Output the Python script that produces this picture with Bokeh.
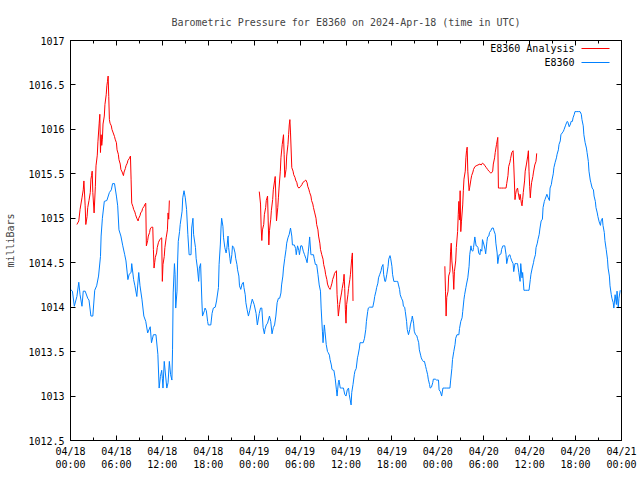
import datetime as dt
from bokeh.plotting import figure
from bokeh.models import (Range1d, FixedTicker, DatetimeTickFormatter, LinearAxis, DatetimeAxis,
                          CustomJSTickFormatter, Label, BoxAnnotation)
from bokeh.embed import file_html
from bokeh.resources import INLINE

TITLE = "Barometric Pressure for E8360 on 2024-Apr-18 (time in UTC)"
Y_LABEL = "milliBars"
SERIES_NAMES = ["E8360 Analysis", "E8360"]
START = dt.datetime(2024, 4, 18, 0, 0)
END = dt.datetime(2024, 4, 21, 0, 0)
X_TICK_HOURS = [0, 6, 12, 18, 24, 30, 36, 42, 48, 54, 60, 66, 72]
X_MINOR_HOURS = [3, 9, 15, 21, 27, 33, 39, 45, 51, 57, 63, 69]
Y_TICKS = [1012.5, 1013, 1013.5, 1014, 1014.5, 1015, 1015.5, 1016, 1016.5, 1017]

# E8360 station (minutes after 2024-04-18 00:00 UTC, mb)
blue_min = [0, 15, 30, 50, 65, 75, 90, 100, 115, 135, 145, 160, 175, 190, 205, 220, 235, 240, 250, 265,
            285, 305, 320, 330, 345, 360, 370, 380, 395, 410, 425, 435, 450, 460, 475, 480, 495, 505, 520, 535,
            545, 560, 575, 590, 605, 625, 635, 650, 670, 685, 695, 705, 715, 720, 725, 735, 755, 765, 775, 785,
            795, 800, 805, 815, 820, 825, 835, 840, 845, 855, 860, 875, 880, 890, 900, 910, 920, 930, 945, 950,
            960, 965, 980, 985, 995, 1005, 1010, 1020, 1030, 1035, 1050, 1055, 1065, 1075, 1080, 1100, 1110, 1120, 1135, 1145,
            1160, 1165, 1175, 1180, 1185, 1195, 1200, 1210, 1220, 1225, 1235, 1240, 1250, 1255, 1265, 1270, 1280, 1290, 1295, 1305,
            1310, 1320, 1325, 1335, 1345, 1355, 1360, 1370, 1375, 1385, 1395, 1405, 1415, 1425, 1440, 1455, 1465, 1480, 1490, 1500,
            1510, 1520, 1525, 1535, 1545, 1560, 1570, 1580, 1590, 1600, 1610, 1620, 1630, 1640, 1650, 1655, 1665, 1670, 1680, 1690,
            1695, 1705, 1715, 1725, 1735, 1740, 1755, 1765, 1770, 1780, 1790, 1795, 1805, 1815, 1825, 1835, 1845, 1855, 1865, 1870,
            1875, 1885, 1890, 1905, 1910, 1920, 1930, 1940, 1950, 1960, 1965, 1975, 1980, 1990, 1995, 2005, 2015, 2020, 2030, 2035,
            2045, 2050, 2060, 2065, 2075, 2085, 2090, 2100, 2105, 2115, 2125, 2140, 2150, 2160, 2170, 2180, 2185, 2200, 2205, 2215,
            2225, 2230, 2240, 2250, 2255, 2265, 2270, 2285, 2295, 2305, 2315, 2320, 2330, 2335, 2345, 2355, 2370, 2380, 2385, 2395,
            2400, 2410, 2415, 2425, 2435, 2440, 2450, 2455, 2465, 2470, 2480, 2490, 2495, 2505, 2510, 2520, 2525, 2535, 2545, 2555,
            2565, 2570, 2580, 2585, 2595, 2605, 2610, 2620, 2625, 2635, 2640, 2650, 2660, 2665, 2675, 2680, 2690, 2695, 2705, 2715,
            2720, 2730, 2735, 2745, 2750, 2760, 2765, 2775, 2785, 2790, 2800, 2805, 2815, 2820, 2830, 2840, 2845, 2860, 2870, 2885,
            2890, 2900, 2910, 2920, 2930, 2950, 2975, 2980, 2990, 2995, 3005, 3015, 3020, 3030, 3045, 3050, 3060, 3070, 3075, 3085,
            3090, 3100, 3105, 3115, 3125, 3130, 3140, 3145, 3155, 3160, 3170, 3180, 3185, 3195, 3200, 3210, 3215, 3225, 3230, 3240,
            3250, 3255, 3265, 3270, 3280, 3285, 3295, 3305, 3315, 3320, 3330, 3335, 3345, 3350, 3360, 3365, 3375, 3380, 3390, 3395,
            3405, 3415, 3420, 3430, 3435, 3445, 3450, 3460, 3470, 3475, 3485, 3495, 3505, 3515, 3525, 3530, 3540, 3545, 3555, 3570,
            3585, 3595, 3605, 3610, 3620, 3630, 3635, 3645, 3650, 3660, 3665, 3675, 3680, 3690, 3700, 3705, 3715, 3720, 3730, 3735,
            3745, 3755, 3760, 3770, 3775, 3785, 3790, 3800, 3810, 3815, 3825, 3830, 3840, 3845, 3855, 3865, 3870, 3880, 3885, 3895,
            3900, 3910, 3920, 3925, 3935, 3940, 3950, 3955, 3970, 3985, 3995, 4005, 4010, 4020, 4025, 4035, 4045, 4050, 4060, 4065,
            4075, 4080, 4090, 4100, 4105, 4115, 4120, 4130, 4135, 4145, 4155, 4160, 4170, 4175, 4185, 4190, 4200, 4210, 4215, 4225,
            4230, 4240, 4245, 4255, 4260, 4270, 4280, 4285, 4295, 4300, 4310]
blue_mb = [1014.20, 1014.18, 1014.01, 1014.12, 1014.28, 1014.14, 1014.01, 1014.18, 1014.18, 1014.10, 1014.08, 1013.90, 1013.90, 1014.19, 1014.24, 1014.35, 1014.57, 1014.80, 1015.00, 1015.19,
           1015.20, 1015.29, 1015.32, 1015.39, 1015.39, 1015.25, 1015.14, 1014.87, 1014.80, 1014.69, 1014.59, 1014.52, 1014.31, 1014.37, 1014.39, 1014.49, 1014.31, 1014.24, 1014.12, 1014.39,
           1014.24, 1014.09, 1013.90, 1013.84, 1013.71, 1013.78, 1013.60, 1013.69, 1013.69, 1013.47, 1013.09, 1013.22, 1013.29, 1013.20, 1013.09, 1013.39, 1013.09, 1013.15, 1013.39, 1013.24,
           1013.18, 1013.52, 1014.16, 1014.49, 1014.37, 1013.99, 1014.18, 1014.52, 1014.74, 1014.85, 1014.93, 1015.08, 1015.23, 1015.31, 1015.23, 1015.10, 1014.82, 1014.59, 1014.59, 1014.89,
           1015.00, 1014.82, 1014.67, 1014.55, 1014.44, 1014.29, 1014.44, 1014.49, 1014.07, 1013.90, 1013.96, 1013.99, 1013.96, 1013.84, 1013.80, 1013.80, 1013.93, 1013.99, 1014.00, 1014.07,
           1014.22, 1014.48, 1014.71, 1014.89, 1015.00, 1014.91, 1014.78, 1014.67, 1014.61, 1014.65, 1014.80, 1014.67, 1014.55, 1014.49, 1014.59, 1014.69, 1014.67, 1014.61, 1014.55, 1014.48,
           1014.42, 1014.35, 1014.24, 1014.20, 1014.26, 1014.28, 1014.22, 1014.14, 1014.05, 1013.97, 1013.90, 1013.96, 1014.03, 1014.09, 1014.03, 1013.93, 1013.80, 1013.93, 1013.99, 1013.99,
           1013.77, 1013.70, 1013.75, 1013.80, 1013.82, 1013.90, 1013.84, 1013.70, 1013.77, 1013.80, 1013.90, 1014.05, 1014.10, 1014.10, 1014.16, 1014.25, 1014.35, 1014.44, 1014.55, 1014.65,
           1014.72, 1014.78, 1014.82, 1014.89, 1014.80, 1014.70, 1014.70, 1014.66, 1014.59, 1014.69, 1014.64, 1014.59, 1014.69, 1014.69, 1014.63, 1014.59, 1014.55, 1014.50, 1014.63, 1014.70,
           1014.79, 1014.59, 1014.59, 1014.59, 1014.55, 1014.48, 1014.48, 1014.37, 1014.25, 1014.18, 1013.99, 1013.73, 1013.60, 1013.80, 1013.73, 1013.58, 1013.50, 1013.49, 1013.46, 1013.41,
           1013.35, 1013.30, 1013.29, 1013.29, 1013.20, 1013.07, 1013.00, 1013.15, 1013.18, 1013.09, 1013.09, 1013.09, 1013.02, 1013.00, 1013.07, 1013.09, 1013.02, 1012.90, 1013.04, 1013.13,
           1013.24, 1013.28, 1013.31, 1013.43, 1013.46, 1013.54, 1013.60, 1013.60, 1013.60, 1013.65, 1013.75, 1013.84, 1013.95, 1013.99, 1014.00, 1014.00, 1014.00, 1014.07, 1014.12, 1014.18,
           1014.22, 1014.27, 1014.33, 1014.37, 1014.41, 1014.45, 1014.48, 1014.37, 1014.29, 1014.29, 1014.37, 1014.46, 1014.54, 1014.58, 1014.55, 1014.46, 1014.37, 1014.29, 1014.29, 1014.29,
           1014.29, 1014.26, 1014.20, 1014.14, 1014.10, 1014.07, 1014.01, 1014.00, 1013.95, 1013.84, 1013.75, 1013.69, 1013.75, 1013.80, 1013.86, 1013.90, 1013.82, 1013.73, 1013.69, 1013.68,
           1013.65, 1013.60, 1013.52, 1013.46, 1013.43, 1013.40, 1013.39, 1013.39, 1013.33, 1013.30, 1013.24, 1013.19, 1013.13, 1013.09, 1013.10, 1013.15, 1013.19, 1013.19, 1013.18, 1013.18,
           1013.07, 1013.05, 1013.00, 1013.09, 1013.09, 1013.09, 1013.09, 1013.17, 1013.31, 1013.41, 1013.50, 1013.58, 1013.65, 1013.69, 1013.69, 1013.76, 1013.84, 1013.88, 1013.95, 1014.09,
           1014.14, 1014.22, 1014.26, 1014.33, 1014.46, 1014.59, 1014.69, 1014.64, 1014.63, 1014.67, 1014.79, 1014.69, 1014.69, 1014.67, 1014.61, 1014.59, 1014.65, 1014.63, 1014.76, 1014.71,
           1014.65, 1014.60, 1014.74, 1014.79, 1014.80, 1014.84, 1014.86, 1014.89, 1014.89, 1014.86, 1014.82, 1014.72, 1014.61, 1014.49, 1014.59, 1014.59, 1014.60, 1014.65, 1014.69, 1014.69,
           1014.69, 1014.59, 1014.49, 1014.56, 1014.58, 1014.59, 1014.56, 1014.52, 1014.49, 1014.40, 1014.49, 1014.49, 1014.49, 1014.39, 1014.29, 1014.49, 1014.33, 1014.39, 1014.19, 1014.19,
           1014.19, 1014.19, 1014.31, 1014.37, 1014.44, 1014.50, 1014.54, 1014.59, 1014.67, 1014.72, 1014.76, 1014.82, 1014.88, 1014.97, 1014.99, 1015.12, 1015.19, 1015.21, 1015.25, 1015.27,
           1015.23, 1015.20, 1015.34, 1015.38, 1015.43, 1015.50, 1015.57, 1015.63, 1015.68, 1015.72, 1015.77, 1015.83, 1015.87, 1015.94, 1015.96, 1015.98, 1016.00, 1016.04, 1016.06, 1016.09,
           1016.08, 1016.03, 1016.06, 1016.09, 1016.09, 1016.13, 1016.17, 1016.20, 1016.20, 1016.20, 1016.20, 1016.17, 1016.11, 1016.04, 1015.94, 1015.85, 1015.79, 1015.74, 1015.64, 1015.53,
           1015.43, 1015.40, 1015.34, 1015.32, 1015.25, 1015.19, 1015.12, 1015.06, 1015.02, 1014.96, 1014.92, 1014.97, 1015.00, 1014.92, 1014.84, 1014.75, 1014.65, 1014.54, 1014.44, 1014.35,
           1014.24, 1014.14, 1014.10, 1014.05, 1013.99, 1014.14, 1014.03, 1014.18, 1013.99, 1014.10, 1014.19]

# E8360 Analysis, three separate runs
red1_min = [50, 65, 75, 90, 100, 105, 115, 120, 130, 135, 145, 155, 160, 165, 170, 175, 185, 195, 200, 210,
            215, 225, 230, 235, 240, 245, 250, 255, 265, 270, 280, 285, 290, 295, 300, 305, 310, 320, 325, 335,
            345, 350, 360, 365, 375, 380, 390, 395, 405, 415, 420, 430, 435, 445, 450, 460, 470, 475, 480, 490,
            495, 505, 510, 520, 530, 535, 545, 550, 560, 565, 575, 585, 590, 595, 605, 610, 620, 625, 635, 645,
            650, 655, 660, 665, 675, 680, 690, 700, 705, 715, 720, 725, 735, 740, 750, 760, 765, 770, 775]
red1_mb = [1014.93, 1014.97, 1015.10, 1015.23, 1015.32, 1015.42, 1015.14, 1014.93, 1015.02, 1015.12, 1015.20, 1015.29, 1015.44, 1015.48, 1015.53, 1015.29, 1015.06, 1015.36, 1015.59, 1015.71,
           1015.86, 1016.07, 1016.17, 1015.74, 1015.94, 1015.82, 1015.89, 1016.06, 1016.15, 1016.28, 1016.39, 1016.49, 1016.54, 1016.60, 1016.37, 1016.11, 1016.07, 1016.04, 1016.00, 1015.96,
           1015.92, 1015.89, 1015.85, 1015.77, 1015.72, 1015.66, 1015.61, 1015.55, 1015.52, 1015.48, 1015.52, 1015.56, 1015.59, 1015.62, 1015.65, 1015.67, 1015.70, 1015.44, 1015.17, 1015.13,
           1015.10, 1015.07, 1015.04, 1015.00, 1014.97, 1015.00, 1015.03, 1015.06, 1015.08, 1015.11, 1015.13, 1015.16, 1015.17, 1014.69, 1014.75, 1014.80, 1014.84, 1014.88, 1014.90, 1014.90,
           1014.65, 1014.44, 1014.50, 1014.56, 1014.61, 1014.67, 1014.73, 1014.76, 1014.77, 1014.78, 1014.29, 1014.48, 1014.57, 1014.67, 1014.78, 1014.87, 1015.06, 1014.99, 1015.20]

red2_min = [1480, 1490, 1495, 1500, 1505, 1515, 1520, 1530, 1535, 1545, 1550, 1555, 1560, 1570, 1575, 1585, 1590, 1600, 1605, 1610,
            1615, 1625, 1630, 1635, 1645, 1650, 1660, 1670, 1675, 1680, 1690, 1695, 1705, 1710, 1715, 1720, 1725, 1735, 1745, 1750,
            1760, 1765, 1775, 1780, 1790, 1800, 1805, 1815, 1820, 1830, 1835, 1845, 1855, 1860, 1870, 1875, 1885, 1890, 1900, 1905,
            1915, 1925, 1930, 1940, 1945, 1955, 1960, 1970, 1980, 1985, 1995, 2000, 2010, 2015, 2025, 2035, 2040, 2050, 2055, 2065,
            2070, 2080, 2085, 2090, 2095, 2100, 2110, 2115, 2125, 2130, 2140, 2145, 2150, 2155, 2160, 2165, 2175, 2180, 2190, 2195,
            2205, 2210, 2215]
red2_mb = [1015.30, 1015.16, 1014.89, 1014.75, 1014.87, 1014.93, 1015.04, 1015.12, 1015.20, 1015.25, 1014.97, 1014.70, 1014.86, 1014.99, 1015.09, 1015.21, 1015.32, 1015.42, 1015.47, 1015.23,
           1014.97, 1015.12, 1015.23, 1015.34, 1015.53, 1015.68, 1015.83, 1015.94, 1015.72, 1015.46, 1015.55, 1015.70, 1015.83, 1015.94, 1016.05, 1016.11, 1015.96, 1015.57, 1015.53, 1015.49,
           1015.46, 1015.43, 1015.40, 1015.36, 1015.34, 1015.35, 1015.36, 1015.38, 1015.40, 1015.41, 1015.42, 1015.43, 1015.40, 1015.36, 1015.32, 1015.29, 1015.25, 1015.20, 1015.16, 1015.12,
           1015.06, 1015.00, 1014.93, 1014.87, 1014.80, 1014.72, 1014.65, 1014.59, 1014.54, 1014.48, 1014.42, 1014.37, 1014.31, 1014.26, 1014.22, 1014.20, 1014.22, 1014.27, 1014.31, 1014.35,
           1014.38, 1014.40, 1014.41, 1014.14, 1014.03, 1013.90, 1014.03, 1014.08, 1014.16, 1014.21, 1014.29, 1014.37, 1014.21, 1013.97, 1013.82, 1014.03, 1014.14, 1014.21, 1014.31, 1014.37,
           1014.55, 1014.61, 1014.07]

red3_min = [2935, 2940, 2945, 2950, 2960, 2965, 2975, 2980, 2985, 2990, 3000, 3005, 3010, 3020, 3025, 3035, 3040, 3045, 3050, 3055,
            3060, 3065, 3075, 3080, 3085, 3095, 3100, 3105, 3110, 3115, 3125, 3130, 3140, 3145, 3155, 3160, 3170, 3180, 3195, 3210,
            3220, 3230, 3240, 3250, 3260, 3270, 3280, 3295, 3300, 3310, 3315, 3325, 3330, 3340, 3345, 3350, 3355, 3365, 3380, 3395,
            3405, 3415, 3420, 3430, 3435, 3445, 3450, 3460, 3470, 3475, 3480, 3485, 3490, 3495, 3505, 3510, 3520, 3525, 3535, 3540,
            3545, 3550, 3560, 3565, 3575, 3585, 3590, 3595, 3600, 3605, 3610, 3615, 3625, 3630, 3640, 3650, 3655]
red3_mb = [1014.46, 1014.18, 1013.90, 1014.11, 1014.18, 1014.35, 1014.40, 1014.63, 1014.72, 1014.52, 1014.37, 1014.20, 1014.40, 1014.52, 1014.67, 1014.85, 1015.04, 1015.19, 1014.98, 1015.31,
           1014.85, 1014.96, 1015.15, 1015.31, 1015.44, 1015.53, 1015.68, 1015.76, 1015.80, 1015.53, 1015.31, 1015.35, 1015.44, 1015.48, 1015.52, 1015.55, 1015.58, 1015.59, 1015.60, 1015.61,
           1015.60, 1015.62, 1015.61, 1015.59, 1015.57, 1015.55, 1015.53, 1015.51, 1015.51, 1015.53, 1015.61, 1015.68, 1015.74, 1015.83, 1015.87, 1015.91, 1015.34, 1015.34, 1015.34, 1015.34,
           1015.34, 1015.34, 1015.39, 1015.48, 1015.58, 1015.63, 1015.67, 1015.74, 1015.76, 1015.61, 1015.42, 1015.21, 1015.27, 1015.31, 1015.34, 1015.29, 1015.21, 1015.27, 1015.17, 1015.14,
           1015.21, 1015.29, 1015.42, 1015.53, 1015.61, 1015.70, 1015.76, 1015.53, 1015.36, 1015.23, 1015.33, 1015.40, 1015.47, 1015.52, 1015.60, 1015.64, 1015.73]

RED = "#ff0000"
BLUE = "#0080ff"
FONT = "DejaVu Sans Mono"
EPOCH = dt.datetime(1970, 1, 1)


def times(mins):
    return [START + dt.timedelta(minutes=m) for m in mins]


def ms(hours):
    return [(START + dt.timedelta(hours=h) - EPOCH).total_seconds() * 1000.0 for h in hours]


p = figure(frame_width=551, frame_height=400, x_axis_type="datetime",
           x_range=Range1d(START, END), y_range=Range1d(Y_TICKS[0], Y_TICKS[-1]),
           output_backend="svg", toolbar_location=None, title=TITLE,
           min_border_left=70, min_border_right=19, min_border_top=40, min_border_bottom=40)
p.background_fill_color = "white"
p.border_fill_color = "white"
p.outline_line_color = "black"
p.outline_line_width = 1
p.xgrid.visible = False
p.ygrid.visible = False

p.title.text_font = FONT
p.title.text_font_size = "10px"
p.title.text_font_style = "normal"
p.title.align = "center"
p.title.standoff = 25

xt = FixedTicker(ticks=ms(X_TICK_HOURS), minor_ticks=ms(X_MINOR_HOURS))
yt = FixedTicker(ticks=Y_TICKS, minor_ticks=[])
fmt = "%m/%d\n%H:%M"
dfmt = DatetimeTickFormatter(microseconds=fmt, milliseconds=fmt, seconds=fmt, minsec=fmt, minutes=fmt,
                             hourmin=fmt, hours=fmt, days=fmt, months=fmt, years=fmt)

for ax in (p.xaxis[0], p.yaxis[0]):
    ax.major_tick_in = 5
    ax.major_tick_out = 0
    ax.minor_tick_in = 3
    ax.minor_tick_out = 0
    ax.axis_line_color = "black"
    ax.major_tick_line_color = "black"
    ax.minor_tick_line_color = "black"
    ax.major_label_text_font = FONT
    ax.major_label_text_font_size = "10px"
    ax.major_label_text_color = "black"

p.xaxis[0].ticker = xt
p.xaxis[0].formatter = dfmt
p.xaxis[0].major_label_standoff = 5
p.yaxis[0].ticker = yt
p.yaxis[0].formatter = CustomJSTickFormatter(code="return tick.toString();")
p.yaxis[0].major_label_standoff = 6
p.yaxis[0].axis_label = Y_LABEL
p.yaxis[0].axis_label_text_font = FONT
p.yaxis[0].axis_label_text_font_size = "10px"
p.yaxis[0].axis_label_text_font_style = "normal"
p.yaxis[0].axis_label_standoff = 9

blank = CustomJSTickFormatter(code="return '';")
top = DatetimeAxis(ticker=xt, formatter=blank, major_tick_in=5, major_tick_out=0, minor_tick_in=3,
                   minor_tick_out=0, major_label_standoff=0, major_label_text_font_size="1px")
right = LinearAxis(ticker=yt, formatter=blank, major_tick_in=5, major_tick_out=0, minor_tick_in=0,
                   minor_tick_out=0, major_label_standoff=0, major_label_text_font_size="1px")
p.add_layout(top, "above")
p.add_layout(right, "right")

for mins, vals in ((red1_min, red1_mb), (red2_min, red2_mb), (red3_min, red3_mb)):
    p.line(times(mins), vals, line_color=RED, line_width=1)
p.line(times(blue_min), blue_mb, line_color=BLUE, line_width=1)

# gnuplot-style key: text right-aligned, sample line to the right
for i, (name, col) in enumerate(zip(SERIES_NAMES, (RED, BLUE))):
    ypos = 392 - 14 * i
    p.add_layout(Label(x=504, y=ypos, x_units="screen", y_units="screen", text=name,
                       text_align="right", text_baseline="middle", text_font=FONT,
                       text_font_size="10px", text_color="black"))
    p.add_layout(BoxAnnotation(left=511, right=539, bottom=ypos - 0.5, top=ypos + 0.5,
                               left_units="screen", right_units="screen",
                               top_units="screen", bottom_units="screen",
                               fill_color=col, fill_alpha=1.0, line_color=None))

open("out.html", "w").write(file_html(p, INLINE))
